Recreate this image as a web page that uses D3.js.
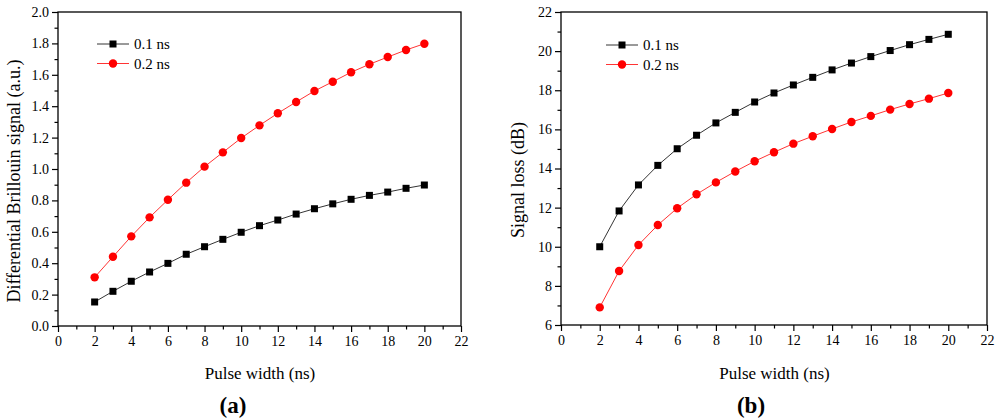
<!DOCTYPE html>
<html>
<head>
<meta charset="utf-8">
<script src="https://cdn.jsdelivr.net/npm/d3@7"></script>
<style>
  body { margin: 0; background: #fff; }
  svg text { font-family: "Liberation Serif", "Times New Roman", serif; fill: #000; }
</style>
</head>
<body>
<div id="chart"></div>
<script>
// pulse widths (ns) shared by both panels
const pulseWidths = [2, 3, 4, 5, 6, 7, 8, 9, 10, 11, 12, 13, 14, 15, 16, 17, 18, 19, 20];
const seriesNames = ["0.1 ns", "0.2 ns"];

// (a) differential Brillouin signal (a.u.)
const brillouin01 = [0.153, 0.221, 0.285, 0.344, 0.399, 0.457, 0.505, 0.552, 0.597, 0.639,
                     0.675, 0.713, 0.747, 0.778, 0.807, 0.832, 0.853, 0.877, 0.898];
const brillouin02 = [0.31, 0.441, 0.571, 0.692, 0.804, 0.913, 1.015, 1.106, 1.197, 1.278,
                     1.355, 1.427, 1.497, 1.556, 1.616, 1.667, 1.713, 1.758, 1.798];

// (b) signal loss (dB)
const loss01 = [10.0, 11.83, 13.16, 14.16, 15.01, 15.7, 16.33, 16.87, 17.4, 17.86,
                18.27, 18.66, 19.04, 19.39, 19.72, 20.03, 20.33, 20.6, 20.86];
const loss02 = [6.9, 8.76, 10.09, 11.11, 11.97, 12.68, 13.29, 13.85, 14.37, 14.83,
                15.27, 15.65, 16.02, 16.38, 16.69, 17.01, 17.3, 17.57, 17.86];

const xTicks = [0, 2, 4, 6, 8, 10, 12, 14, 16, 18, 20, 22];
const yTicksA = [0.0, 0.2, 0.4, 0.6, 0.8, 1.0, 1.2, 1.4, 1.6, 1.8, 2.0];
const yTicksB = [6, 8, 10, 12, 14, 16, 18, 20, 22];

const colors = ["#000000", "#ff0000"];

const svg = d3.select("#chart")
    .append("svg")
    .attr("width", 1000)
    .attr("height", 420);

function drawPanel(opt) {
    const x = d3.scaleLinear().domain([0, 22]).range([opt.left, opt.right]);
    const y = d3.scaleLinear().domain(opt.yDomain).range([opt.bottom, opt.top]);
    const g = svg.append("g");

    // minor ticks first, so the major ones sit on top
    const xMinor = d3.range(1, 22, 2);
    g.append("g")
        .attr("transform", `translate(0,${opt.bottom})`)
        .call(d3.axisBottom(x).tickValues(xMinor).tickSize(3.5).tickFormat(""))
        .call(a => a.select(".domain").remove());
    g.append("g")
        .attr("transform", `translate(${opt.left},0)`)
        .call(d3.axisLeft(y).tickValues(opt.yMinor).tickSize(3.5).tickFormat(""))
        .call(a => a.select(".domain").remove());

    const xAxis = g.append("g")
        .attr("transform", `translate(0,${opt.bottom})`)
        .call(d3.axisBottom(x).tickValues(xTicks).tickSize(6).tickPadding(4).tickFormat(d3.format("d")));
    const yAxis = g.append("g")
        .attr("transform", `translate(${opt.left},0)`)
        .call(d3.axisLeft(y).tickValues(opt.yTicks).tickSize(6).tickPadding(3).tickFormat(opt.yFormat));

    [xAxis, yAxis].forEach(a => {
        a.selectAll("text").attr("font-size", 14).attr("font-family", "Liberation Serif");
        a.select(".domain").remove();
    });
    g.selectAll(".tick line").attr("stroke-width", 1.2);

    // frame around the plot
    g.append("rect")
        .attr("x", opt.left).attr("y", opt.top)
        .attr("width", opt.right - opt.left)
        .attr("height", opt.bottom - opt.top)
        .attr("fill", "none")
        .attr("stroke", "#000")
        .attr("stroke-width", 1.3);

    const line = d3.line()
        .x((d, i) => x(pulseWidths[i]))
        .y(d => y(d));

    opt.series.forEach((s, k) => {
        g.append("path")
            .datum(s)
            .attr("fill", "none")
            .attr("stroke", colors[k])
            .attr("stroke-width", 0.8)
            .attr("d", line);
        if (k === 0) {
            g.selectAll(null)
                .data(s)
                .enter()
                .append("rect")
                .attr("x", (d, i) => x(pulseWidths[i]) - 3.5)
                .attr("y", d => y(d) - 3.5)
                .attr("width", 7)
                .attr("height", 7)
                .attr("fill", colors[k]);
        } else {
            g.selectAll(null)
                .data(s)
                .enter()
                .append("circle")
                .attr("cx", (d, i) => x(pulseWidths[i]))
                .attr("cy", d => y(d))
                .attr("r", 4.2)
                .attr("fill", colors[k]);
        }
    });

    // legend
    seriesNames.forEach((name, k) => {
        const ly = opt.legendY + k * 19.5;
        const lx = opt.legendX;
        g.append("line")
            .attr("x1", lx).attr("x2", lx + 32)
            .attr("y1", ly).attr("y2", ly)
            .attr("stroke", colors[k]).attr("stroke-width", 0.8);
        if (k === 0) {
            g.append("rect")
                .attr("x", lx + 16 - 3.5).attr("y", ly - 3.5)
                .attr("width", 7).attr("height", 7)
                .attr("fill", colors[k]);
        } else {
            g.append("circle")
                .attr("cx", lx + 16).attr("cy", ly)
                .attr("r", 4.2)
                .attr("fill", colors[k]);
        }
        g.append("text")
            .attr("x", lx + 37)
            .attr("y", ly + 5)
            .attr("font-size", 15)
            .text(name);
    });

    g.append("text")
        .attr("x", (opt.left + opt.right) / 2 + 0.5)
        .attr("y", 379)
        .attr("text-anchor", "middle")
        .attr("font-size", 17)
        .text("Pulse width (ns)");

    g.append("text")
        .attr("transform", `translate(${opt.titleX},${opt.titleY}) rotate(-90)`)
        .attr("text-anchor", "middle")
        .attr("font-size", 18)
        .text(opt.yTitle);

    g.append("text")
        .attr("x", opt.tagX)
        .attr("y", 413)
        .attr("text-anchor", "middle")
        .attr("font-size", 23)
        .attr("font-weight", "bold")
        .text(opt.tag);
}

drawPanel({
    left: 58, right: 461, top: 12, bottom: 326,
    yDomain: [0, 2], yTicks: yTicksA, yMinor: d3.range(0.1, 2, 0.2),
    yFormat: d3.format(".1f"),
    series: [brillouin01, brillouin02],
    legendX: 97, legendY: 44,
    yTitle: "Differential Brillouin signal (a.u.)", titleX: 20, titleY: 181,
    tag: "(a)", tagX: 233
});

drawPanel({
    left: 561, right: 987, top: 12, bottom: 325,
    yDomain: [6, 22], yTicks: yTicksB, yMinor: d3.range(7, 22, 2),
    yFormat: d3.format("d"),
    series: [loss01, loss02],
    legendX: 606, legendY: 45,
    yTitle: "Signal loss (dB)", titleX: 524, titleY: 180,
    tag: "(b)", tagX: 751
});
</script>
</body>
</html>
